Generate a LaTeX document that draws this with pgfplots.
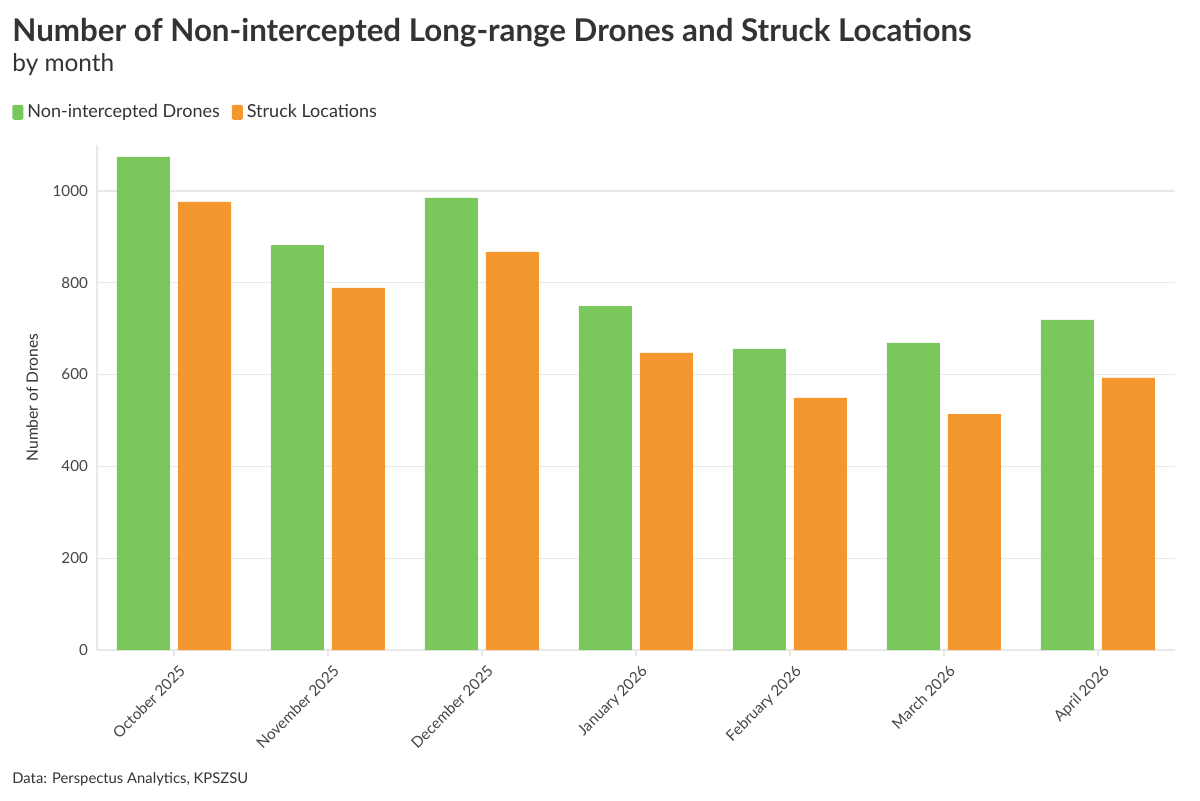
\documentclass[border=0pt]{standalone}
\usepackage{pgfplots}
\pgfplotsset{compat=1.18}
\usepackage{fontspec}
\setmainfont{Lato}
\definecolor{cgreen}{HTML}{7AC75C}
\definecolor{corange}{HTML}{F5972F}
\definecolor{ctext}{HTML}{333333}
\definecolor{ctick}{HTML}{444444}
\definecolor{cgrid}{HTML}{E8E8E8}
\begin{document}
\begin{tikzpicture}
\useasboundingbox (0pt,0pt) rectangle (600pt,400pt);
\node[anchor=base west, inner sep=0, text=ctext, font=\fontsize{15.65}{18}\selectfont\bfseries] at (6pt,379pt) {Number of Non-intercepted Long-range Drones and Struck Locations};
\node[anchor=base west, inner sep=0, text=ctext, font=\fontsize{12.2}{14}\selectfont] at (6pt,364pt) {by month};
\node[anchor=base west, inner sep=0, text=ctext, font=\fontsize{7.4}{9}\selectfont] at (6pt,8.5pt) {Data: Perspectus Analytics, KPSZSU};
\begin{axis}[
  at={(48.5pt,75pt)}, anchor=south west,
  scale only axis, width=539pt, height=252.5pt,
  xmin=-0.5, xmax=6.5, ymin=0, ymax=1100,
  ybar, bar width=26.5pt,
  xtick=data,
  xticklabels={October 2025,November 2025,December 2025,January 2026,February 2026,March 2026,April 2026},
  ytick={0,200,400,600,800,1000},
  /pgf/number format/assume math mode=true,
  /pgf/number format/1000 sep={},
  ymajorgrids, grid style={cgrid, line width=0.6pt},
  axis x line*=bottom, axis y line*=left,
  axis line style={cgrid, line width=0.6pt},
  x axis line style={-}, y axis line style={-},
  major tick length=3pt,
  xtick style={cgrid, line width=0.6pt},
  ytick style={draw=none},
  tick label style={text=ctick, font=\fontsize{7.6}{9}\selectfont},
  xticklabel style={rotate=45, anchor=north east, xshift=2pt, yshift=-1pt},
  yticklabel style={xshift=-1pt},
  ylabel={Number of Drones},
  ylabel style={text=ctext, font=\fontsize{7.8}{9}\selectfont, yshift=0.5pt},
  legend style={at={(-0.0789,1.089)}, anchor=north west, draw=none, fill=none,
    font=\fontsize{9}{11}\selectfont, text=ctext, inner sep=0pt,
    /tikz/every even column/.append style={column sep=4pt}},
  legend columns=2,
  legend image code/.code={\fill[#1, rounded corners=1pt] (0pt,-3.6pt) rectangle (5.5pt,3.9pt);},
  legend cell align=left,
]
\addplot[fill=cgreen, draw=none, bar shift=-15.25pt] coordinates {(0,1074) (1,882) (2,985) (3,749) (4,656) (5,669) (6,719)};
\addplot[fill=corange, draw=none, bar shift=15.25pt] coordinates {(0,976) (1,789) (2,867) (3,647) (4,549) (5,514) (6,593)};
\legend{Non-intercepted Drones, Struck Locations}
\end{axis}
\end{tikzpicture}
\end{document}
